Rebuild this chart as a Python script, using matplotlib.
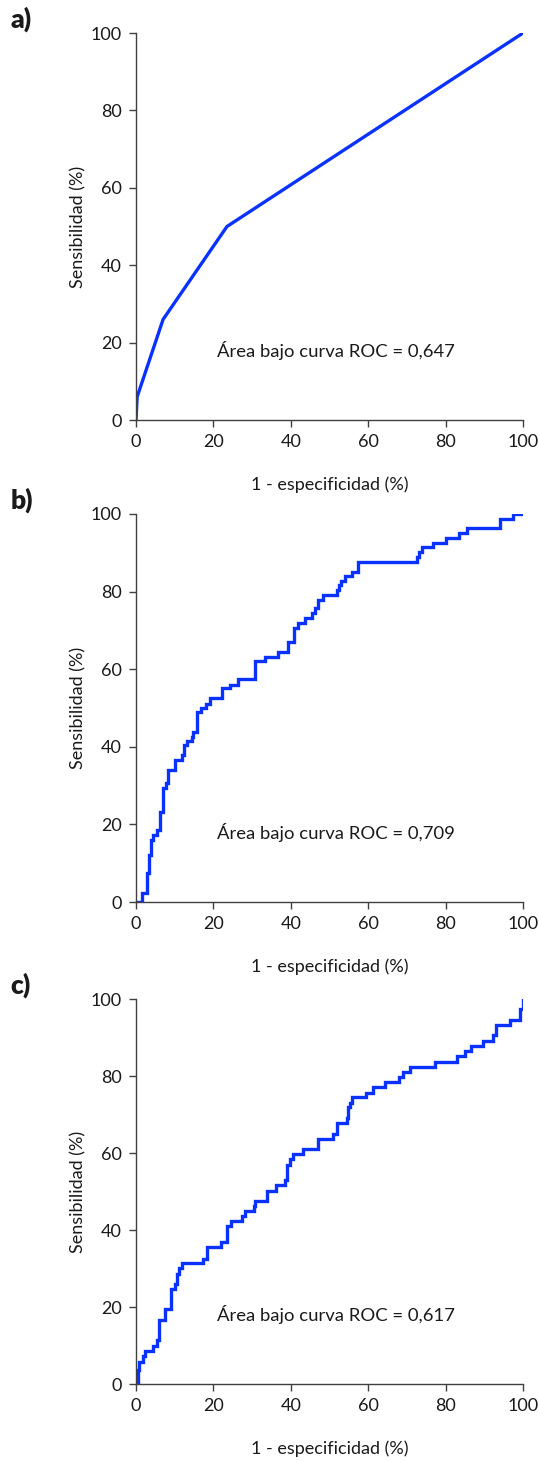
import matplotlib.pyplot as plt

plt.rcParams['font.family'] = ['Lato', 'DejaVu Sans']

# a) curva con pocos puntos de corte
fpr_a = [0, 0.3, 7, 23.5, 100]
tpr_a = [0, 6, 26, 50, 100]

# b) curva escalonada
fpr_b = [0, 1.5, 2.8, 3.4, 3.8, 4.5, 5.3, 6.2, 7.1, 7.8, 8.3, 10.1, 11.8, 12.4,
         13.1, 14.4, 14.8, 15.8, 16.7, 18.1, 19.1, 22.1, 24.3, 26.4, 30.7, 33.3,
         36.8, 39.4, 40.8, 41.9, 43.7, 45.4, 46.3, 47.1, 48.2, 51.9, 52.5, 53.1,
         54.0, 55.7, 57.4, 72.5, 73.2, 73.8, 76.8, 80.1, 83.5, 85.6, 94.1, 97.3, 100]
tpr_b = [0, 2.4, 7.4, 12.1, 16, 17.3, 18.6, 23.3, 29.3, 30.6, 34, 36.6, 37.9, 40.5,
         41.5, 42.6, 43.9, 48.9, 49.9, 51, 52.5, 55.1, 55.9, 57.4, 62.1, 63.2,
         64.5, 67.1, 70.7, 71.8, 73.1, 74.4, 75.7, 77.8, 79.1, 80.4, 81.7, 82.7,
         84.1, 85.1, 87.7, 89.0, 90.3, 91.4, 92.6, 93.9, 95.0, 96.5, 98.7, 100, 100]

# c) curva escalonada
fpr_c = [0, 0.5, 0.9, 1.7, 2.3, 4.5, 5.3, 5.9, 7.5, 9.0, 10.1, 10.5, 11.1, 12.0,
         17.2, 18.4, 21.9, 23.4, 24.5, 27.3, 28.2, 30.5, 30.7, 33.9, 36.1, 38.5,
         38.9, 39.8, 40.7, 43.2, 47.1, 50.8, 52.0, 54.4, 54.9, 55.3, 55.7, 59.4,
         61.3, 64.3, 68.0, 68.9, 70.8, 77.3, 83.0, 85.0, 86.5, 89.7, 92.3, 93.0,
         96.6, 99.2, 99.9, 100]
tpr_c = [0, 3.6, 5.8, 7.4, 8.7, 9.9, 11.4, 16.6, 19.4, 24.8, 26.1, 28.7, 30.2, 31.5,
         32.6, 35.5, 36.8, 41.0, 42.4, 43.6, 45.0, 46.2, 47.6, 50.1, 51.7, 53.0,
         56.9, 58.4, 59.7, 61.0, 63.6, 64.9, 67.7, 69.0, 72.0, 73.1, 74.5, 75.7,
         77.1, 78.5, 79.8, 81.1, 82.3, 83.7, 85.2, 86.5, 87.8, 89.2, 90.6, 93.2,
         94.5, 97.4, 98.7, 100]

etiquetas = ['a)', 'b)', 'c)']
areas = ['0,647', '0,709', '0,617']
ticks = [0, 20, 40, 60, 80, 100]

azul = '#0a32ff'
gris = '#404040'
texto = '#1a1a1a'

fig = plt.figure(figsize=(5.39, 14.61), dpi=100)

# posiciones de los ejes [izq, abajo, ancho, alto]
cajas = [[0.2523, 0.7125, 0.718, 0.2649],
         [0.2523, 0.3826, 0.718, 0.2656],
         [0.2523, 0.0527, 0.718, 0.2635]]

curvas = [(fpr_a, tpr_a, 'default'),
          (fpr_b, tpr_b, 'steps-post'),
          (fpr_c, tpr_c, 'steps-post')]

for i, caja in enumerate(cajas):
    ax = fig.add_axes(caja)
    x, y, estilo = curvas[i]
    ax.plot(x, y, color=azul, lw=2.4, drawstyle=estilo, solid_joinstyle='miter')
    ax.set_xlim(0, 100)
    ax.set_ylim(0, 100)
    ax.set_xticks(ticks)
    ax.set_yticks(ticks)
    for s in ['top', 'right']:
        ax.spines[s].set_visible(False)
    for s in ['left', 'bottom']:
        ax.spines[s].set_color(gris)
        ax.spines[s].set_linewidth(1.0)
    ax.tick_params(colors=gris, labelcolor=texto, labelsize=13,
                   length=5, width=1.0, pad=5)
    ax.set_xlabel('1 - especificidad (%)', fontsize=13, labelpad=19, color=texto)
    ax.set_ylabel('Sensibilidad (%)', fontsize=13, labelpad=3, color=texto)
    ax.text(21, 18, 'Área bajo curva ROC = ' + areas[i], fontsize=13.3,
            ha='left', va='center', color=texto)
    ax.text(-0.325, 1.035, etiquetas[i], transform=ax.transAxes,
            fontsize=19, fontweight='heavy', ha='left', va='center', color=texto)

fig.savefig('out.png', dpi=100)
